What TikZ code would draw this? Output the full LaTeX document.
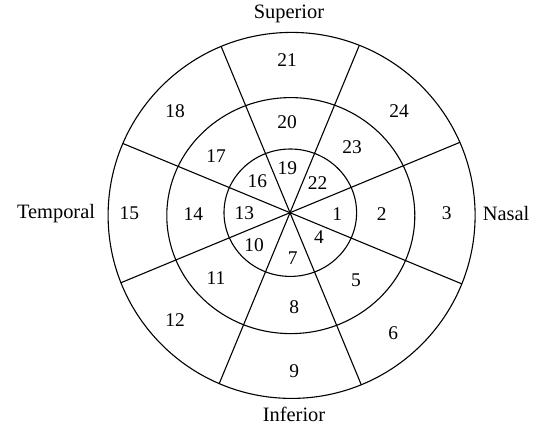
\documentclass[tikz,border=0pt]{standalone}
\usepackage{fontspec}
\setmainfont{Liberation Serif}
\begin{document}
\begin{tikzpicture}[x=1bp,y=-1bp,line width=1.1bp,
  lbl/.style={inner sep=0pt,font=\fontsize{20.5}{24}\selectfont},
  num/.style={inner sep=0pt,font=\fontsize{19.5}{23}\selectfont}]
\useasboundingbox (0,0) rectangle (537,427);
% circles
\draw (291.6,215.4) ellipse [x radius=183.5bp, y radius=183bp];
\draw (290.8,215.6) ellipse [x radius=124bp, y radius=118bp];
\draw (290.3,212.7) ellipse [x radius=66.3bp, y radius=63.7bp];
% spokes
\coordinate (c) at (290,212.7);
\begin{scope}
\clip (291.6,215.4) ellipse [x radius=183.5bp, y radius=183bp];
\foreach \a in {22.5,67.5,112.5,157.5,202.5,247.5,292.5,337.5}
  \draw (c) -- ++(\a:-260bp);
\end{scope}
% labels
\node[lbl] (sup) at (289,14) {Superior};
\node[lbl] (inf) at (294,414) {Inferior};
\node[lbl] (tem) at (56,213.5) {Temporal};
\node[lbl] (nas) at (506,213.5) {Nasal};
% numbers
\node[num] (n21) at (287,60) {21};
\node[num] (n20) at (287,122) {20};
\node[num] (n18) at (175,111) {18};
\node[num] (n24) at (399,111) {24};
\node[num] (n23) at (352,147.5) {23};
\node[num] (n17) at (216,156.5) {17};
\node[num] (n19) at (287.3,168.3) {19};
\node[num] (n16) at (257.3,180.7) {16};
\node[num] (n22) at (317.7,183.3) {22};
\node[num] (n15) at (129.3,213.5) {15};
\node[num] (n14) at (193.3,214) {14};
\node[num] (n13) at (244.3,213.5) {13};
\node[num] (n1) at (337.3,214) {1};
\node[num] (n2) at (381.7,214) {2};
\node[num] (n3) at (446.7,213.5) {3};
\node[num] (n4) at (319,236.7) {4};
\node[num] (n10) at (254,245) {10};
\node[num] (n7) at (292.7,258.3) {7};
\node[num] (n11) at (216,277.7) {11};
\node[num] (n5) at (356,280.7) {5};
\node[num] (n8) at (294.3,306.7) {8};
\node[num] (n12) at (175,320) {12};
\node[num] (n6) at (393.3,333.3) {6};
\node[num] (n9) at (294.3,371) {9};
\end{tikzpicture}
\end{document}
